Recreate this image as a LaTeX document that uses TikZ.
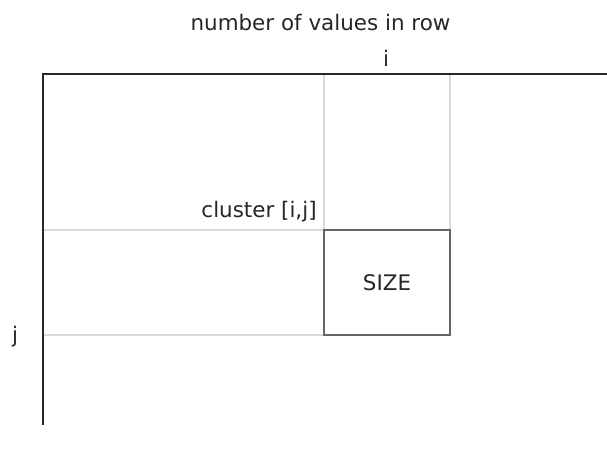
\documentclass[tikz,border=0pt]{standalone}
\usepackage{fontspec}
\setmainfont{DejaVu Sans}
\begin{document}
\begin{tikzpicture}
[axisDecorate/.style={-,line width=1.2pt,draw=black!85},%
  gridDecorate/.style={-,line width=0.6pt,draw=black!15},%
  cellDecorate/.style={shape=rectangle,draw=black!60,line width=0.6pt,inner sep=0pt,
    minimum width=2.52cm,minimum height=2.1cm,fill=white},%
  labelDecorate/.style={inner sep=0pt,anchor=base,text=black!85,font=\fontsize{12.2}{14}\selectfont}]
\useasboundingbox (0,0) rectangle (12.14,9.06);
%% axes
\coordinate (origin) at (0.86,7.58);
\coordinate (xend) at (12.14,7.58);
\coordinate (yend) at (0.86,0.56);
%% grid lines through the cell
\foreach \name/\x/\y in {
  colA/6.48/7.58, colB/9.00/7.58, rowA/0.86/4.46, rowB/0.86/2.36}
{
  \coordinate (\name) at (\x,\y);
}
\draw[gridDecorate] (colA) -- (6.48,4.46);
\draw[gridDecorate] (colB) -- (9.00,4.46);
\draw[gridDecorate] (rowA) -- (6.48,4.46);
\draw[gridDecorate] (rowB) -- (6.48,2.36);
\node (cell) at (7.74,3.41) [cellDecorate,text=black!85,font=\fontsize{12.2}{14}\selectfont] {SIZE};
\draw[axisDecorate] (yend) -- (origin) -- (xend);
%% labels
\node (title) at (6.41,8.44) [labelDecorate] {number of values in row};
\node (ilabel) at (7.72,7.73) [labelDecorate] {i};
\node (jlabel) at (0.30,2.21) [labelDecorate] {j};
\node (cluster) at (6.34,4.71) [labelDecorate,anchor=base east] {cluster [i,j]};
\end{tikzpicture}
\end{document}
